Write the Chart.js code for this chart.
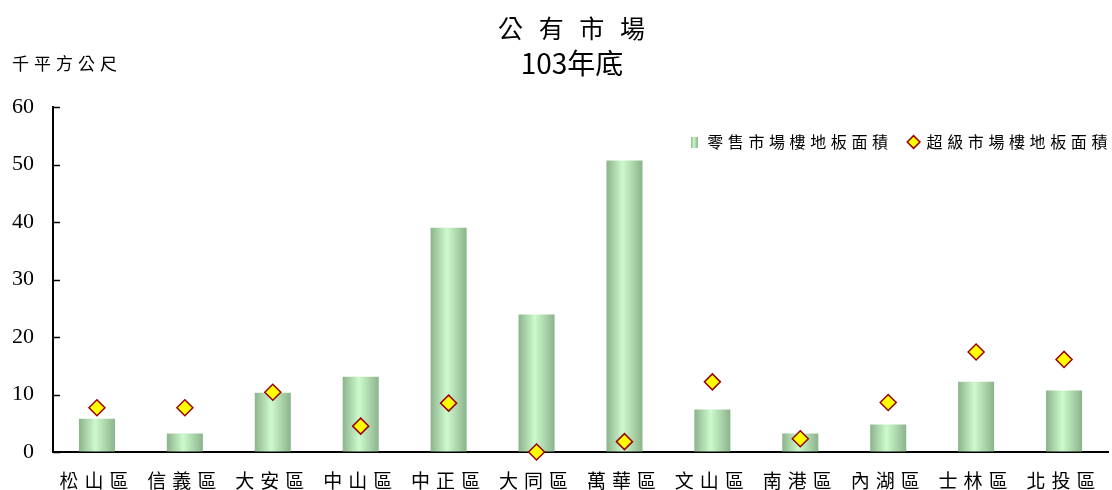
<!DOCTYPE html>
<html>
<head>
<meta charset="utf-8">
<script src="https://cdn.jsdelivr.net/npm/chart.js@4.4.1/dist/chart.umd.min.js"></script>
<style>
html, body { margin: 0; padding: 0; background: #fff; overflow: hidden; }
#wrap { width: 1112px; height: 490px; position: relative; }
#wrap canvas { display: block; }
</style>
</head>
<body>
<div id="wrap"><canvas id="chart"></canvas></div>
<script>
// 公有市場 103年底，單位：千平方公尺
var districts = ['松山區', '信義區', '大安區', '中山區', '中正區', '大同區', '萬華區', '文山區', '南港區', '內湖區', '士林區', '北投區'];
var retailArea = [5.8, 3.2, 10.3, 13.1, 39.0, 23.9, 50.7, 7.4, 3.2, 4.8, 12.2, 10.7];
var superArea = [7.7, 7.7, 10.4, 4.5, 8.5, 0, 1.8, 12.2, 2.3, 8.6, 17.4, 16.1];
var yTicks = [0, 10, 20, 30, 40, 50, 60];
var seriesNames = ['零售市場樓地板面積', '超級市場樓地板面積'];
var titleLines = ['公 有 市 場', '103年底'];
var unitLabel = '千平方公尺';

var BAR_PCT = 0.41;
var GREEN_EDGE = '#8cb38c';
var GREEN_MID = '#cdfacd';

// gradient across each bar, left/right darker
function barFill(c) {
  var chart = c.chart, xs = chart.scales.x;
  if (!xs || c.dataIndex == null) return '#b4dcb4';
  var px = xs.getPixelForValue(c.dataIndex);
  var half = xs.width / districts.length * BAR_PCT / 2;
  if (!isFinite(px) || !(half > 0)) return '#b4dcb4';
  var g = chart.ctx.createLinearGradient(px - half, 0, px + half, 0);
  g.addColorStop(0, GREEN_EDGE);
  g.addColorStop(0.45, GREEN_MID);
  g.addColorStop(1, GREEN_EDGE);
  return g;
}

// little gradient box for the legend
var legendBar = document.createElement('canvas');
legendBar.width = 7;
legendBar.height = 11;
(function () {
  var m = legendBar.getContext('2d');
  var g = m.createLinearGradient(0, 0, 7, 0);
  g.addColorStop(0, GREEN_EDGE);
  g.addColorStop(0.45, GREEN_MID);
  g.addColorStop(1, GREEN_EDGE);
  m.fillStyle = g;
  m.fillRect(0, 0, 7, 11);
})();

function withSpacing(fn, px) {
  return function () {
    var c = this.ctx, prev = c.letterSpacing;
    c.letterSpacing = px;
    var r = fn.apply(this, arguments);
    c.letterSpacing = prev;
    return r;
  };
}

var tweaks = {
  id: 'tweaks',
  beforeLayout: function (chart) {
    var lg = chart.legend;
    if (lg && !lg._tw) {
      lg._tw = true;
      var fit = withSpacing(lg.fit, '4.6px');
      var draw = withSpacing(lg.draw, '4.6px');
      // legend sits inside the plot, so it takes no room in the layout
      lg.fit = function () { fit.call(this); this.height = 0; };
      lg.draw = function () {
        var t = this.top, b = this.bottom, l = this.left, r = this.right;
        this.top = t + 11; this.bottom = t + 60; this.left = l + 20; this.right = r + 20;
        draw.call(this);
        this.top = t; this.bottom = b; this.left = l; this.right = r;
      };
    }
  },
  beforeDraw: function (chart) {
    var xs = chart.scales.x;
    if (xs && !xs._tw) {
      xs._tw = true;
      xs.drawLabels = withSpacing(xs.drawLabels, '6px');
    }
  },
  afterDraw: function (chart) {
    var ctx = chart.ctx, ys = chart.scales.y, a = chart.chartArea;
    ctx.save();
    // y ticks point inward
    ctx.strokeStyle = '#000';
    ctx.lineWidth = 1.5;
    ys.ticks.forEach(function (t) {
      var y = Math.round(ys.getPixelForValue(t.value)) + 0.5;
      ctx.beginPath();
      ctx.moveTo(a.left, y);
      ctx.lineTo(a.left + 7, y);
      ctx.stroke();
    });
    ctx.fillStyle = '#000';
    ctx.textAlign = 'center';
    ctx.textBaseline = 'middle';
    ctx.letterSpacing = '5px';
    ctx.font = '25px "Noto Sans CJK TC"';
    ctx.fillText(titleLines[0], 574, 28);
    ctx.letterSpacing = '0px';
    ctx.font = '28px "Liberation Sans Narrow", "Noto Sans CJK TC"';
    ctx.fillText(titleLines[1], 572, 63);
    ctx.textAlign = 'left';
    ctx.letterSpacing = '5px';
    ctx.font = '17px "Noto Sans CJK TC"';
    ctx.fillText(unitLabel, 12, 64);
    ctx.restore();
  }
};

var ctx = document.getElementById('chart').getContext('2d');
var myChart = new Chart(ctx, {
  type: 'bar',
  data: {
    labels: districts,
    datasets: [{
      type: 'bar',
      label: seriesNames[0],
      data: retailArea,
      backgroundColor: barFill,
      borderWidth: 0,
      categoryPercentage: 1,
      barPercentage: BAR_PCT,
      order: 2
    }, {
      type: 'line',
      label: seriesNames[1],
      data: superArea,
      showLine: false,
      pointStyle: 'rectRot',
      pointRadius: 8,
      pointHoverRadius: 8,
      pointBackgroundColor: '#ffff00',
      pointBorderColor: '#990000',
      pointBorderWidth: 1.5,
      clip: false,
      order: 1
    }]
  },
  options: {
    responsive: true,
    maintainAspectRatio: false,
    animation: false,
    events: [],
    layout: { autoPadding: false, padding: { top: 107, right: 4, bottom: 0, left: 0 } },
    scales: {
      x: {
        offset: true,
        afterFit: function (s) { s.height = 38; },
        grid: { display: true, drawOnChartArea: false, drawTicks: false },
        border: { color: '#000', width: 2 },
        ticks: {
          autoSkip: false,
          maxRotation: 0,
          padding: 17,
          color: '#000',
          font: { family: '"Noto Sans CJK TC"', size: 19 }
        }
      },
      y: {
        min: 0,
        max: 60,
        afterFit: function (s) { s.width = 53; },
        afterBuildTicks: function (s) {
          s.ticks = yTicks.map(function (v) { return { value: v }; });
        },
        grid: { display: true, drawOnChartArea: false, drawTicks: false },
        border: { color: '#000', width: 2 },
        ticks: {
          padding: 19,
          color: '#000',
          font: { family: '"Liberation Serif"', size: 22 }
        }
      }
    },
    plugins: {
      title: { display: false },
      tooltip: { enabled: false },
      legend: {
        display: true,
        position: 'top',
        align: 'end',
        labels: {
          usePointStyle: true,
          boxWidth: 10,
          boxHeight: 9,
          padding: 16,
          color: '#000',
          font: { family: '"Noto Sans CJK TC"', size: 16 },
          generateLabels: function () {
            return [
              { text: seriesNames[0], fillStyle: '#b4dcb4', strokeStyle: 'rgba(0,0,0,0)', lineWidth: 0, pointStyle: legendBar, datasetIndex: 0, hidden: false },
              { text: seriesNames[1], fillStyle: '#ffff00', strokeStyle: '#990000', lineWidth: 1.5, pointStyle: 'rectRot', datasetIndex: 1, hidden: false }
            ];
          }
        }
      }
    }
  },
  plugins: [tweaks]
});
</script>
</body>
</html>
